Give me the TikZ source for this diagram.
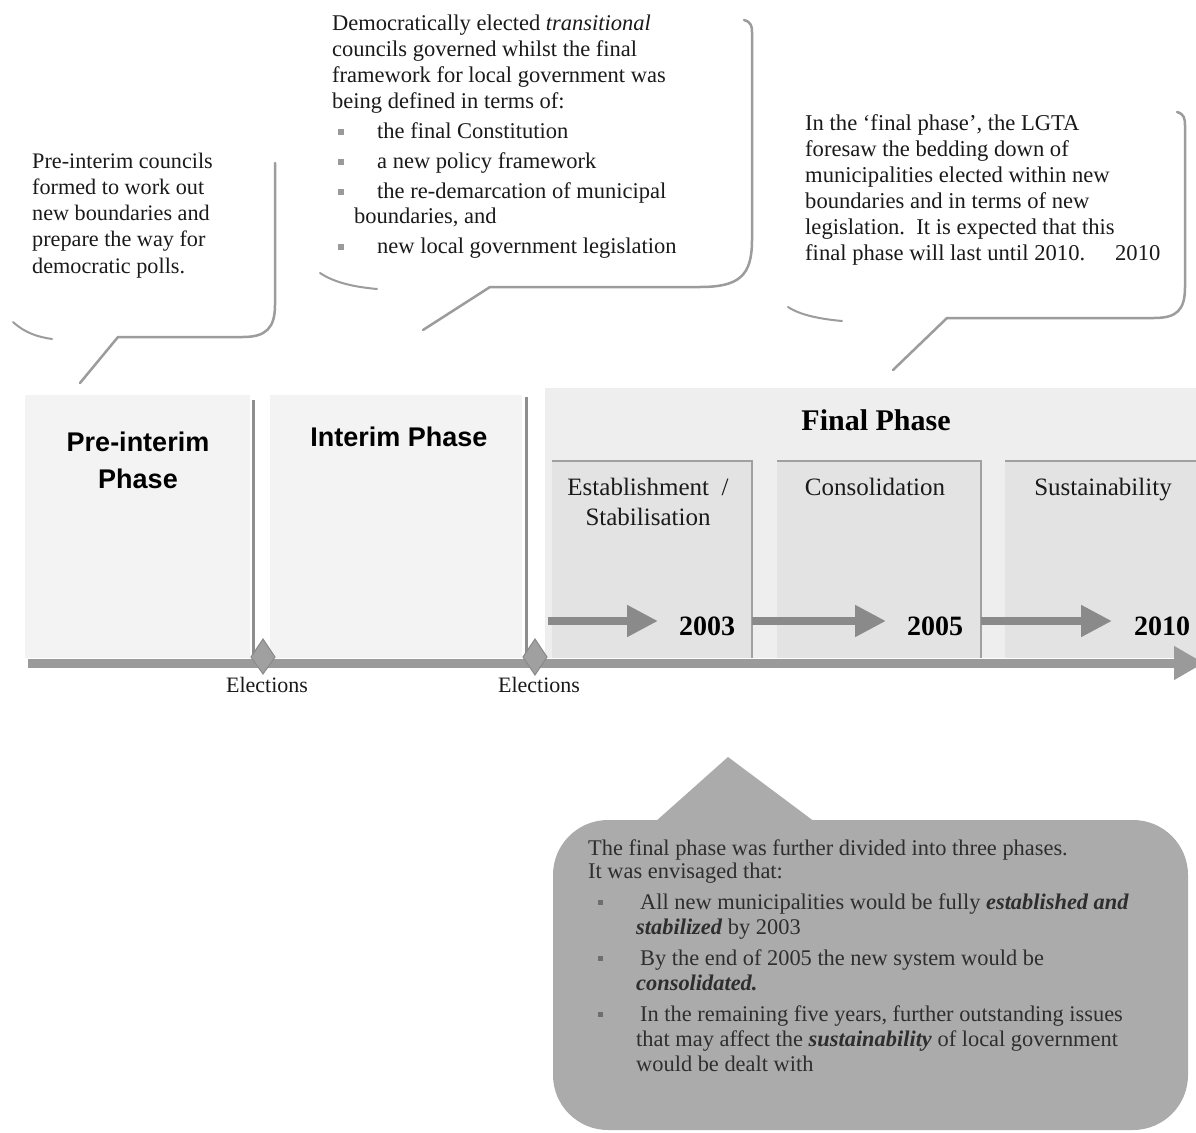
\documentclass[tikz,border=0pt]{standalone}
\usepackage{fontspec}
\setmainfont{Liberation Serif}
\setsansfont{Liberation Sans}
\usetikzlibrary{arrows.meta}
\definecolor{bgA}{HTML}{F3F3F3}
\definecolor{bgF}{HTML}{EEEEEE}
\definecolor{subF}{HTML}{E3E3E3}
\definecolor{subL}{HTML}{A0A0A0}
\definecolor{divL}{HTML}{8E8E8E}
\definecolor{barc}{HTML}{9A9A9A}
\definecolor{arrc}{HTML}{8A8A8A}
\definecolor{diac}{HTML}{A0A0A0}
\definecolor{bubc}{HTML}{9C9C9C}
\definecolor{callc}{HTML}{ABABAB}
\definecolor{bulc}{HTML}{9A9A9A}
\definecolor{bulc2}{HTML}{6E6E6E}
\definecolor{txtc}{HTML}{1A1A1A}
\definecolor{calltxt}{HTML}{2E2E2E}
\newcommand{\bul}{\textcolor{bulc}{\rule[0.12em]{0.26em}{0.26em}}}
\newcommand{\bulb}{\textcolor{bulc2}{\rule[0.2em]{0.22em}{0.22em}}}
\newcommand{\bii}{\makebox[45pt][l]{\hspace{6pt}\bul}}
\newcommand{\bib}{\makebox[52pt][l]{\hspace{10pt}\bulb}}
\begin{document}
\begin{tikzpicture}[x=1pt,y=-1pt,
  txt/.style={inner sep=0pt, anchor=base west, align=left, text=txtc},
  bubble/.style={draw=bubc, line width=2.5pt, line cap=round, line join=round},
  shade/.style={draw=bubc, line width=2pt, line cap=round},
  divline/.style={draw=divL, line width=3pt},
  subbox/.style={draw=subL, line width=2.5pt},
  yeararrow/.style={draw=arrc, line width=8pt, -{Triangle[length=31pt,width=30pt]}},
  timebar/.style={draw=barc, line width=9pt, -{Triangle[length=30pt,width=32pt]}},
  diamondmark/.style={fill=diac, draw=arrc, line width=1pt},
  phasehead/.style={inner sep=0pt, anchor=base, align=center, text=black},
  subhead/.style={inner sep=0pt, anchor=base, align=center, text=txtc, font=\fontsize{25}{30}\selectfont},
  yearlabel/.style={inner sep=0pt, anchor=base, text=black, font=\bfseries\fontsize{28}{32}\selectfont},
  electlabel/.style={inner sep=0pt, anchor=base, text=txtc, font=\fontsize{22}{26}\selectfont}
]
\useasboundingbox (0,0) rectangle (1196,1132);
\fill[white] (0,0) rectangle (1196,1132);

% ---------- phase backgrounds ----------
\fill[bgA] (25,395) rectangle (250,658);
\fill[bgA] (270,395) rectangle (522,658);
\fill[bgF] (545,388) rectangle (1200,658);

% sub-phase boxes
\fill[subF] (552,461) rectangle (752,658);
\draw[subbox] (552,461) -- (752,461) -- (752,658);
\fill[subF] (777,461) rectangle (981,658);
\draw[subbox] (777,461) -- (981,461) -- (981,658);
\fill[subF] (1005,461) rectangle (1200,658);
\draw[subbox] (1005,461) -- (1200,461);

% dividers
\draw[divline] (253,400) -- (253,658);
\draw[divline] (526,397) -- (526,658);

% year arrows
\coordinate (a1s) at (548,621);
\coordinate (a1e) at (658,621);
\coordinate (a2s) at (752,621);
\coordinate (a2e) at (886,621);
\coordinate (a3s) at (981,621);
\coordinate (a3e) at (1112,621);
\draw[yeararrow] (a1s) -- (a1e);
\draw[yeararrow] (a2s) -- (a2e);
\draw[yeararrow] (a3s) -- (a3e);

% time bar
\coordinate (bar0) at (28,663);
\coordinate (bar1) at (1204,663);
\draw[timebar] (bar0) -- (bar1);

% election diamonds
\fill[diamondmark] (263,639) -- (275,657) -- (263,674) -- (251,657) -- cycle;
\fill[diamondmark] (535,639) -- (547,657) -- (535,675) -- (523,657) -- cycle;
\node[electlabel] (el1) at (267,692) {Elections};
\node[electlabel] (el2) at (539,692) {Elections};

% phase headings
\node[phasehead, font=\sffamily\bfseries\fontsize{27}{37}\selectfont] (pre) at (138,488) {Pre-interim\\Phase};
\node[phasehead, font=\sffamily\bfseries\fontsize{27}{37}\selectfont] (interim) at (399,446) {Interim Phase};
\node[phasehead, font=\bfseries\fontsize{30}{34}\selectfont] (final) at (876,430) {Final Phase};
\node[subhead] (est) at (648,525) {Establishment\ \ /\\Stabilisation};
\node[subhead] (cons) at (875,495) {Consolidation};
\node[subhead] (sust) at (1103,495) {Sustainability};
\node[yearlabel] (y1) at (707,635) {2003};
\node[yearlabel] (y2) at (935,635) {2005};
\node[yearlabel] (y3) at (1162,635) {2010};

% ---------- callout 1 ----------
\node[txt, font=\fontsize{22.2}{26.25}\selectfont] (c1) at (32,273)
 {Pre-interim councils\\formed to work out\\new boundaries and\\prepare the way for\\democratic polls.};
\coordinate (p1) at (80,383);
\draw[bubble] (275,163) -- (275,305) .. controls (275,328) and (266,337) .. (243,337) -- (118,337) -- (p1);
\draw[shade] (13,322) .. controls (25,333) and (38,337) .. (52,339);

% ---------- callout 2 ----------
\node[txt, font=\fontsize{22.5}{26}\selectfont] (c2) at (332,253)
 {Democratically elected \textit{transitional}\\
  councils governed whilst the final\\
  framework for local government was\\
  being defined in terms of:\\[4pt]
  \bii the final Constitution\\[4pt]
  \bii a new policy framework\\[4pt]
  \bii the re-demarcation of municipal\\[-1pt]
  \hspace{22pt}boundaries, and\\[4pt]
  \bii new local government legislation};
\coordinate (p2) at (423,330);
\draw[bubble] (744,20) .. controls (751,22) and (752,26) .. (752,32) -- (752,240) .. controls (752,275) and (740,287) .. (700,287) -- (490,287) -- (p2);
\draw[shade] (320,273) .. controls (335,283) and (355,287) .. (377,289);

% ---------- callout 3 ----------
\node[txt, font=\fontsize{22.6}{26}\selectfont] (c3) at (805,260)
 {In the ‘final phase’, the LGTA\\
  foresaw the bedding down of\\
  municipalities elected within new\\
  boundaries and in terms of new\\
  legislation.\ \ It is expected that this\\
  final phase will last until 2010.\hspace{30pt}2010};
\coordinate (p3) at (893,370);
\draw[bubble] (1177,112) .. controls (1184,114) and (1185,118) .. (1185,126) -- (1185,287) .. controls (1185,310) and (1177,318) .. (1154,318) -- (947,318) -- (p3);
\draw[shade] (788,307) .. controls (800,315) and (820,319) .. (842,321);

% ---------- bottom callout ----------
\fill[callc, rounded corners=55pt] (553,820) rectangle (1188,1130);
\fill[callc] (655,822) -- (728,757) -- (815,822) -- cycle;
\node[txt, text=calltxt, font=\fontsize{22.4}{25}\selectfont] (c4) at (588,1071)
 {The final phase was further divided into three phases.\\[-2pt]
  It was envisaged that:\\[6pt]
  \bib All new municipalities would be fully \textbf{\textit{established and}}\\
  \hspace{48pt}\textbf{\textit{stabilized}} by 2003\\[6pt]
  \bib By the end of 2005 the new system would be\\
  \hspace{48pt}\textbf{\textit{consolidated.}}\\[6pt]
  \bib In the remaining five years, further outstanding issues\\
  \hspace{48pt}that may affect the \textbf{\textit{sustainability}} of local government\\
  \hspace{48pt}would be dealt with};
\end{tikzpicture}
\end{document}
